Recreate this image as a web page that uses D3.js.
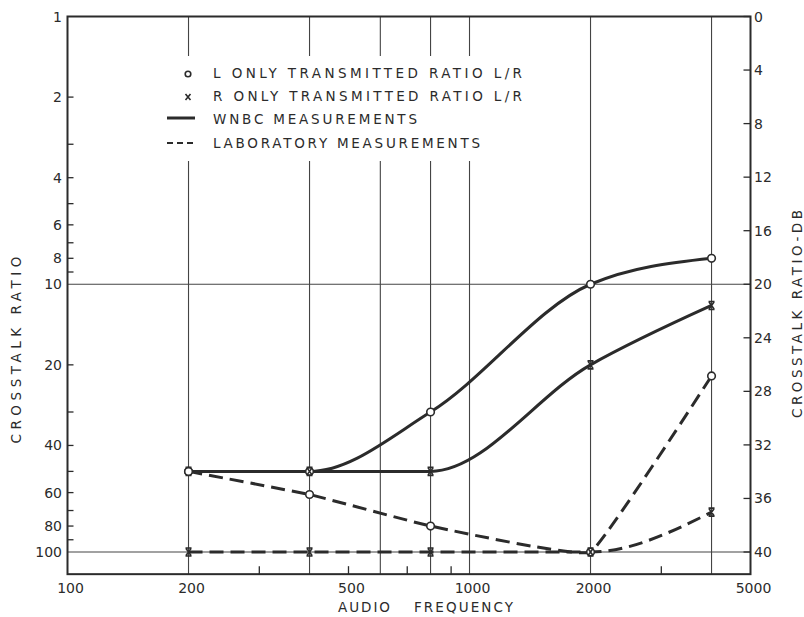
<!DOCTYPE html>
<html>
<head>
<meta charset="utf-8">
<script src="https://cdn.jsdelivr.net/npm/d3@7"></script>
<style>
  html, body { margin: 0; padding: 0; background: #fff; }
  svg { display: block; }
  text { font-family: "DejaVu Sans", sans-serif; fill: #2b2b2b; }
</style>
</head>
<body>
<svg id="chart" width="804" height="617"></svg>
<script>
// ---- data ----
const freqs = [200, 400, 800, 2000, 4000];
const lOnlyWnbc = [50, 50, 30, 10, 8];
const rOnlyWnbc = [50, 50, 50, 20, 12];
const lOnlyLab = [50, 61, 80, 100, 22];
const rOnlyLab = [100, 100, 100, 100, 71];

const xTickLabels = [100, 200, 500, 1000, 2000, 5000];
const xGridValues = [200, 400, 600, 800, 1000, 2000, 4000];
const xMinorTicks = [300, 500, 700, 900, 3000];
const yLeftLabels = [1, 2, 4, 6, 8, 10, 20, 40, 60, 80, 100];
const yLeftTicks = [2, 3, 4, 5, 6, 7, 8, 9, 20, 30, 40, 50, 60, 70, 80, 90];
const yGridValues = [10, 100];
const dbLabels = [0, 4, 8, 12, 16, 20, 24, 28, 32, 36, 40];
const legendItems = [
  "L ONLY TRANSMITTED RATIO L/R",
  "R ONLY TRANSMITTED RATIO L/R",
  "WNBC MEASUREMENTS",
  "LABORATORY MEASUREMENTS"
];

// ---- scales ----
const svg = d3.select("#chart");
const ink = "#2b2b2b";
const x = d3.scaleLog().domain([100, 5000]).range([67.5, 750.5]);
const y = d3.scaleLog().domain([1, 100]).range([16.5, 552]);
const yBottom = y(121);
const yTop = y(1);
const dbToRatio = d => Math.pow(10, d / 20);

// ---- grid ----
const grid = svg.append("g").attr("stroke", "#444").attr("stroke-width", 1.1);
grid.selectAll("line.v").data(xGridValues).join("line")
  .attr("x1", d => x(d)).attr("x2", d => x(d))
  .attr("y1", yTop).attr("y2", yBottom);
grid.selectAll("line.h").data(yGridValues).join("line")
  .attr("x1", x(100)).attr("x2", x(5000))
  .attr("y1", d => y(d)).attr("y2", d => y(d));

// legend mask (white area interrupts grid)
svg.append("rect").attr("x", 158).attr("y", 56).attr("width", 372).attr("height", 105).attr("fill", "#fff");

// ---- frame ----
svg.append("rect")
  .attr("x", x(100)).attr("y", yTop)
  .attr("width", x(5000) - x(100)).attr("height", yBottom - yTop)
  .attr("fill", "none").attr("stroke", ink).attr("stroke-width", 2);

// ---- left axis ----
const left = svg.append("g");
left.selectAll("line").data(yLeftTicks).join("line")
  .attr("x1", x(100)).attr("x2", x(100) + 6)
  .attr("y1", d => y(d)).attr("y2", d => y(d))
  .attr("stroke", ink).attr("stroke-width", 1.3);
left.selectAll("text").data(yLeftLabels).join("text")
  .attr("x", 62).attr("y", d => y(d) + 5)
  .attr("text-anchor", "end").attr("font-size", 14)
  .text(d => d);

// ---- right axis ----
const right = svg.append("g");
right.selectAll("line").data(dbLabels).join("line")
  .attr("x1", x(5000) - 7).attr("x2", x(5000))
  .attr("y1", d => y(dbToRatio(d))).attr("y2", d => y(dbToRatio(d)))
  .attr("stroke", ink).attr("stroke-width", 1.3);
right.selectAll("text").data(dbLabels).join("text")
  .attr("x", 754).attr("y", d => y(dbToRatio(d)) + 5)
  .attr("text-anchor", "start").attr("font-size", 14)
  .text(d => d);

// ---- bottom axis ----
const bottom = svg.append("g");
bottom.selectAll("line").data(xMinorTicks).join("line")
  .attr("x1", d => x(d)).attr("x2", d => x(d))
  .attr("y1", yBottom).attr("y2", yBottom - 8)
  .attr("stroke", ink).attr("stroke-width", 1.3);
bottom.selectAll("text").data(xTickLabels).join("text")
  .attr("x", d => x(d) + 3).attr("y", 593)
  .attr("text-anchor", "middle").attr("font-size", 14)
  .text(d => d);

// ---- axis titles ----
svg.append("text").attr("x", 338).attr("y", 612).attr("font-size", 13.5)
  .attr("textLength", 52).attr("lengthAdjust", "spacing").text("AUDIO");
svg.append("text").attr("x", 414).attr("y", 612).attr("font-size", 13.5)
  .attr("textLength", 99).attr("lengthAdjust", "spacing").text("FREQUENCY");
svg.append("text")
  .attr("transform", "translate(21,350) rotate(-90)")
  .attr("text-anchor", "middle").attr("font-size", 13.5)
  .attr("textLength", 187).attr("lengthAdjust", "spacing")
  .text("CROSSTALK RATIO");
svg.append("text")
  .attr("transform", "translate(802,314) rotate(-90)")
  .attr("text-anchor", "middle").attr("font-size", 13.5)
  .attr("textLength", 208).attr("lengthAdjust", "spacing")
  .text("CROSSTALK RATIO-DB");

// ---- data lines ----
const pts = vals => freqs.map((f, i) => [f, vals[i]]);
const lineMono = d3.line().x(d => x(d[0])).y(d => y(d[1])).curve(d3.curveMonotoneX);
const lineCard = d3.line().x(d => x(d[0])).y(d => y(d[1])).curve(d3.curveCardinal.tension(0.75));

const series = [
  { vals: lOnlyWnbc, gen: lineMono, dash: null, mark: "o" },
  { vals: rOnlyWnbc, gen: lineMono, dash: null, mark: "x" },
  { vals: lOnlyLab, gen: lineCard, dash: "14,7", mark: "o" },
  { vals: rOnlyLab, gen: lineMono, dash: "14,7", mark: "x" }
];
const linesG = svg.append("g");
series.forEach(s => {
  linesG.append("path").attr("d", s.gen(pts(s.vals)))
    .attr("fill", "none").attr("stroke", ink).attr("stroke-width", 3)
    .attr("stroke-dasharray", s.dash);
});

// ---- markers ----
series.forEach(s => {
  const g = svg.append("g");
  if (s.mark === "o") {
    g.selectAll("circle").data(pts(s.vals)).join("circle")
      .attr("cx", d => x(d[0])).attr("cy", d => y(d[1])).attr("r", 3.8)
      .attr("fill", "#fff").attr("stroke", ink).attr("stroke-width", 1.6);
  } else {
    g.selectAll("path").data(pts(s.vals)).join("path")
      .attr("transform", d => `translate(${x(d[0])},${y(d[1])})`)
      .attr("d", "M-3,-4 L3,-4 M-3,4 L3,4 M-2.5,-3.5 L2.5,3.5 M2.5,-3.5 L-2.5,3.5")
      .attr("fill", "none").attr("stroke", ink).attr("stroke-width", 1.6);
  }
});

// ---- legend ----
const legend = svg.append("g");
const rowsY = [73, 96, 119, 143];
const rowLens = [309, 309, 204, 267];
legend.selectAll("text.item").data(legendItems).join("text")
  .attr("class", "item")
  .attr("x", 213).attr("y", (d, i) => rowsY[i] + 5)
  .attr("font-size", 13.5)
  .attr("textLength", (d, i) => rowLens[i]).attr("lengthAdjust", "spacing")
  .text(d => d);
legend.append("circle").attr("cx", 188).attr("cy", rowsY[0] + 1).attr("r", 2.8)
  .attr("fill", "#fff").attr("stroke", ink).attr("stroke-width", 1.6);
legend.append("path").attr("transform", `translate(188,${rowsY[1] + 1})`)
  .attr("d", "M-2.5,-3 L2.5,3 M2.5,-3 L-2.5,3")
  .attr("stroke", ink).attr("stroke-width", 1.6).attr("fill", "none");
legend.append("line").attr("x1", 167).attr("x2", 195)
  .attr("y1", rowsY[2] - 1).attr("y2", rowsY[2] - 1)
  .attr("stroke", ink).attr("stroke-width", 3);
legend.append("line").attr("x1", 167).attr("x2", 196)
  .attr("y1", rowsY[3]).attr("y2", rowsY[3])
  .attr("stroke", ink).attr("stroke-width", 2.2).attr("stroke-dasharray", "6,4");
</script>
</body>
</html>
